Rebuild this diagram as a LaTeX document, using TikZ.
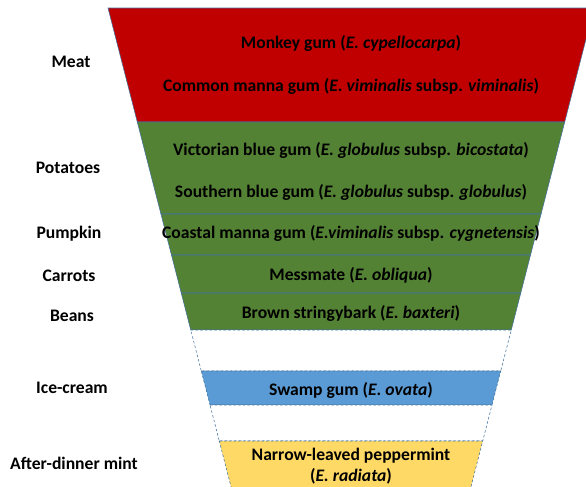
\documentclass[tikz,border=0pt]{standalone}
\usepackage{fontspec}
\setmainfont{Carlito}
\usepackage{tikz}
\usetikzlibrary{calc}

\definecolor{meatred}{HTML}{C00000}
\definecolor{veggreen}{HTML}{548235}
\definecolor{creamblue}{HTML}{5B9BD5}
\definecolor{mintyellow}{HTML}{FFD966}
\definecolor{edgeblue}{HTML}{41719C}

% one slice of the funnel, from y=#1 down to y=#2
\newcommand{\funnelband}[3]{%
  \path[#3] ({351-(243-0.257*(#1-8))},#1) -- ({351+(243-0.257*(#1-8))},#1)
    -- ({351+(243-0.257*(#2-8))},#2) -- ({351-(243-0.257*(#2-8))},#2) -- cycle;}

\tikzset{
  course/.style={font=\fontsize{13.2}{15}\selectfont\bfseries, align=center},
  gum/.style={font=\fontsize{13.2}{15.5}\selectfont\bfseries, align=center},
  solidband/.style={draw=edgeblue, line width=0.4pt},
  gapband/.style={draw=edgeblue, line width=0.4pt, dash pattern=on 2pt off 1.5pt}
}

\begin{document}
\begin{tikzpicture}[x=0.75pt,y=-0.75pt]
            \useasboundingbox (0,0) rectangle (586,486);
            \clip (0,0) rectangle (586,486);
            \funnelband{8}{122}{fill=meatred,solidband}
            \funnelband{122}{214}{fill=veggreen,solidband}
            \funnelband{214}{255}{fill=veggreen,solidband}
            \funnelband{255}{293}{fill=veggreen,solidband}
            \funnelband{293}{330}{fill=veggreen,solidband}
            \funnelband{330}{371}{fill=white,gapband}
            \funnelband{371}{405}{fill=creamblue,gapband}
            \funnelband{405}{441}{fill=white,gapband}
            \funnelband{441}{500}{fill=mintyellow,gapband}

            \node[course] (meat) at (71,62) {Meat};
            \node[course] (potatoes) at (68,168) {Potatoes};
            \node[course] (pumpkin) at (69,234) {Pumpkin};
            \node[course] (carrots) at (69,276) {Carrots};
            \node[course] (beans) at (72,316) {Beans};
            \node[course] (icecream) at (72,388) {Ice-cream};
            \node[course] (mint) at (74,463) {After-dinner mint};

            \node[gum] (monkey) at (351,43) {Monkey gum (\textit{E. cypellocarpa})};
            \node[gum] (manna) at (351,86) {Common manna gum (\textit{E. viminalis} subsp. \textit{viminalis})};
            \node[gum] (victorian) at (351,150) {Victorian blue gum (\textit{E. globulus} subsp. \textit{bicostata})};
            \node[gum] (southern) at (351,192) {Southern blue gum (\textit{E. globulus} subsp. \textit{globulus})};
            \node[gum] (coastal) at (351,233) {Coastal manna gum (\textit{E.viminalis} subsp. \textit{cygnetensis})};
            \node[gum] (messmate) at (351,275) {Messmate (\textit{E. obliqua})};
            \node[gum] (brown) at (351,313) {Brown stringybark (\textit{E. baxteri})};
            \node[gum] (swamp) at (351,390) {Swamp gum (\textit{E. ovata})};
            \node[gum] (peppermint) at (351,466) {Narrow-leaved peppermint\\(\textit{E. radiata})};
        \end{tikzpicture}
\end{document}
